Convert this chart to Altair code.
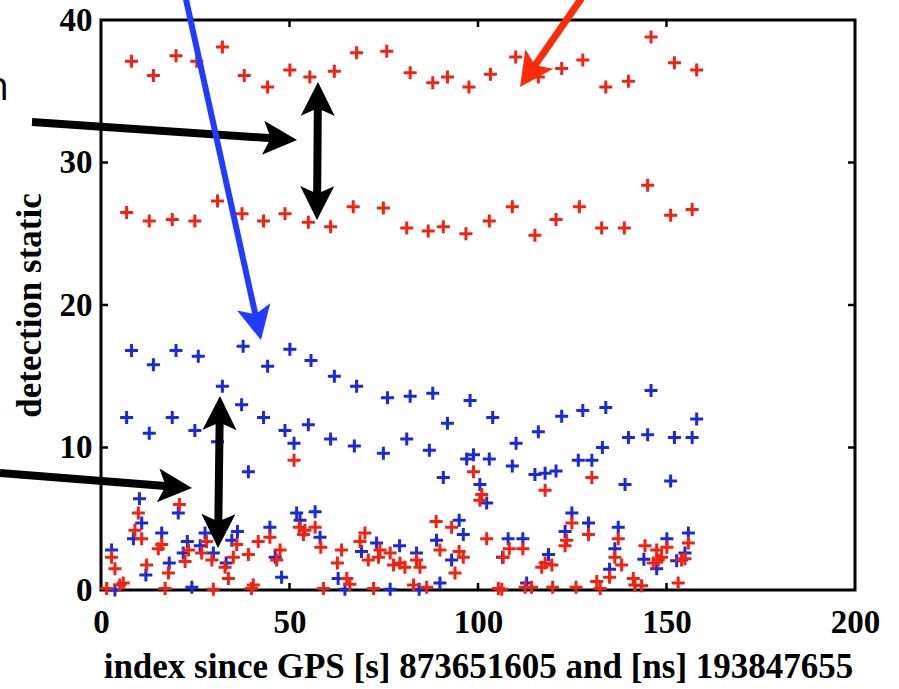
import math
import altair as alt
import pandas as pd

# ---------------- data ----------------
red_x = [
    8.1, 13.9, 19.9, 25.4, 32.2, 38.0, 44.2, 50.1, 55.4, 61.9, 67.8, 75.8, 82.0, 88.0, 91.9, 97.6, 103.3,
    110.0, 116.0, 122.2, 127.8, 133.9, 139.9, 145.9, 152.1, 158.0,
    6.8, 12.8, 18.9, 24.9, 30.9, 37.4, 43.1, 48.8, 55.0, 60.9, 66.9, 74.9, 81.1, 86.8, 90.8, 96.8, 103.0,
    109.1, 115.1, 120.7, 126.9, 132.8, 138.8, 145.0, 151.1, 156.8,
    51.2, 98.8, 130.2, 117.8, 100.5, 101.0,
    20.8, 9.9, 9.0, 10.8, 2.8, 3.7, 12.1, 17.9, 15.2, 16.1, 22.3, 23.2, 26.7, 28.0, 29.4, 32.9, 33.8,
    36.0, 35.1, 39.1, 41.7, 44.8, 47.5, 46.6, 52.6, 53.7, 1.5, 5.0, 5.9, 17.0, 29.8, 40.4, 39.9,
    88.9, 93.0, 102.3, 54.1, 56.8, 58.3, 70.0, 68.7, 63.8, 62.7, 65.2, 66.0, 70.9, 73.6, 74.0, 76.7,
    77.6, 79.3, 80.6, 83.7, 84.6, 89.9, 95.0, 96.1, 93.9, 59.0, 72.3, 82.9, 86.4, 105.4, 106.7,
    124.9, 129.3, 123.5, 123.1, 137.2, 155.8, 108.3, 111.9, 117.8, 116.9, 119.6, 136.3, 138.1, 134.9,
    144.3, 147.4, 150.1, 147.8, 146.5, 148.7, 154.0, 154.9, 153.1, 141.2, 141.6, 143.4, 131.5, 132.4,
    126.0, 119.8, 112.5, 114.2, 106.3,
]
red_y = [
    37.1, 36.1, 37.5, 37.1, 38.1, 36.1, 35.3, 36.5, 36.0, 36.4, 37.7, 37.8, 36.3, 35.6, 36.0, 35.3, 36.2,
    37.4, 36.0, 36.6, 37.2, 35.3, 35.7, 38.8, 37.0, 36.5,
    26.5, 25.9, 26.0, 25.9, 27.3, 26.4, 25.9, 26.4, 25.8, 25.5, 26.9, 26.8, 25.4, 25.2, 25.5, 25.0, 25.9,
    26.9, 24.9, 26.0, 26.9, 25.4, 25.4, 28.4, 26.3, 26.7,
    9.1, 8.3, 7.9, 7.0, 6.3, 6.7,
    6.0, 5.4, 4.2, 3.6, 2.3, 1.5, 1.75, 1.2, 2.9, 3.2, 2.0, 2.8, 2.6, 3.4, 2.1, 1.6, 0.8,
    3.2, 2.3, 2.5, 3.4, 3.7, 2.8, 2.1, 4.4, 3.9, 0.1, 0.35, 0.5, 0.1, 0.05, 0.35, 0.1,
    4.8, 4.4, 3.6, 4.2, 4.4, 3.0, 4.0, 3.4, 2.8, 1.9, 0.8, 0.4, 2.1, 2.3, 2.8, 2.6,
    1.75, 1.9, 1.6, 2.1, 1.6, 2.8, 2.7, 2.3, 1.2, 0.1, 0.1, 0.35, 0.2, 0.1, 2.3,
    4.7, 3.9, 3.5, 3.1, 3.6, 3.3, 2.9, 2.9, 1.9, 1.6, 1.75, 2.3, 1.75, 0.9,
    3.1, 2.8, 3.0, 2.1, 1.9, 2.3, 2.1, 2.2, 0.5, 0.8, 0.35, 0.3, 0.6, 0.1,
    0.2, 0.2, 0.2, 0.2, 0.05,
]
blue_x = [
    8.1, 13.9, 19.9, 25.8, 32.2, 37.7, 44.2, 50.1, 55.7, 61.9, 67.8, 76.0, 82.0, 88.0, 97.9, 103.9,
    110.1, 116.0, 122.2, 127.8, 133.9, 139.9, 145.9, 152.1, 158.0,
    6.8, 12.8, 18.9, 24.9, 30.9, 37.3, 43.1, 48.8, 51.2, 55.0, 60.9, 67.2, 74.9, 81.1, 87.1, 91.9,
    97.0, 98.8, 103.0, 109.1, 115.1, 117.8, 120.7, 126.6, 130.2, 133.0, 139.0, 145.0, 151.1, 156.8,
    39.1, 90.8, 100.5, 102.3, 10.2,
    10.8, 8.6, 2.8, 16.1, 20.5, 18.1, 11.9, 22.9, 21.8, 27.6, 26.3, 29.8, 36.2, 34.7, 33.2, 44.8,
    46.2, 47.9, 51.9, 52.8, 24.1, 3.7,
    56.8, 58.1, 95.0, 96.1, 89.0, 73.1, 69.1, 79.2, 83.7, 93.0, 62.9, 64.7, 76.7, 89.9, 84.4,
    124.9, 129.3, 137.2, 150.1, 155.8, 108.0, 111.9, 123.1, 118.7, 136.3, 134.9, 144.0, 147.4,
    152.7, 154.9, 106.5, 112.9,
]
blue_y = [
    16.8, 15.8, 16.8, 16.4, 14.3, 17.1, 15.7, 16.9, 16.1, 15.0, 14.3, 13.5, 13.6, 13.8, 13.3, 12.1,
    10.3, 11.1, 12.2, 12.6, 12.8, 10.7, 14.0, 10.7, 12.0,
    12.1, 11.0, 12.1, 11.2, 10.4, 13.0, 12.1, 11.2, 10.3, 11.6, 10.6, 10.1, 9.6, 10.6, 9.8, 11.7,
    9.2, 9.5, 9.2, 8.7, 8.1, 8.2, 8.35, 9.1, 9.1, 10.0, 7.4, 10.9, 7.65, 10.7,
    8.3, 7.9, 7.4, 6.1, 6.4,
    4.7, 3.6, 2.8, 4.0, 5.4, 1.9, 1.05, 3.4, 2.6, 4.0, 3.1, 2.6, 4.1, 3.5, 1.9, 4.4,
    2.3, 0.9, 5.4, 4.9, 0.2, 0.0,
    5.5, 3.7, 4.9, 3.9, 3.5, 3.3, 2.7, 3.1, 2.6, 2.1, 0.8, 0.05, 0.05, 0.5, 0.05,
    5.4, 4.7, 4.4, 3.6, 4.0, 3.6, 3.6, 4.1, 2.5, 2.9, 1.45, 2.15, 1.5,
    2.05, 2.6, 2.3, 0.5,
]

x_tick_values = [0, 50, 100, 150, 200]
y_tick_values = [0, 10, 20, 30, 40]
x_inner_ticks = [50, 100, 150]
y_inner_ticks = [10, 20, 30]

x_title = "index since GPS [s] 873651605 and [ns] 193847655"
y_title = "detection static"

# annotation arrows, in data units (start -> end)
arrow_x1 = [-18.3, 57.56, -26.8, 31.56, 22.0, 128.6]
arrow_y1 = [32.84, 35.65, 8.21, 13.61, 42.1, 41.96]
arrow_x2 = [52.0, 57.29, 24.14, 31.03, 42.44, 111.14]
arrow_y2 = [31.58, 25.96, 7.16, 2.95, 17.54, 35.3]
arrow_color = ["black", "black", "black", "black", "#1f3cff", "#ff2a0a"]
arrow_double = [False, True, False, True, False, False]
arrow_width = [8, 8, 8, 8, 6, 7]

note_text = ["n"]
note_x = [-24.4]
note_y = [34.39]

# ---------------- layout / styles ----------------
W, H = 754, 570
XD = [0, 200]
YD = [0, 40]
SX = W / (XD[1] - XD[0])
SY = H / (YD[1] - YD[0])
HEAD_R = 17
HEAD_PATH = "M0,-1L1,1L0,0.55L-1,1Z"
PLUS_PATH = "M-1,0L1,0M0,-1L0,1"
RED = "#f02212"
BLUE = "#1a2ad8"
SERIF = "Liberation Serif"


def head(tx, ty, fx, fy):
    dx = (tx - fx) * SX
    dy = -(ty - fy) * SY
    L = math.hypot(dx, dy)
    ux, uy = dx / L, dy / L
    ang = math.degrees(math.atan2(ux, -uy)) % 360
    cx = tx - HEAD_R * ux / SX
    cy = ty + HEAD_R * uy / SY
    return cx, cy, ang


seg_rows, head_rows = [], []
for i in range(len(arrow_x1)):
    x1, y1, x2, y2 = arrow_x1[i], arrow_y1[i], arrow_x2[i], arrow_y2[i]
    c = arrow_color[i]
    cx2, cy2, a2 = head(x2, y2, x1, y1)
    head_rows.append({"x": cx2, "y": cy2, "angle": a2, "color": c})
    sx1, sy1 = x1, y1
    if arrow_double[i]:
        cx1, cy1, a1 = head(x1, y1, x2, y2)
        head_rows.append({"x": cx1, "y": cy1, "angle": a1, "color": c})
        sx1, sy1 = cx1, cy1
    seg_rows.append({"x": sx1, "y": sy1, "x2": cx2, "y2": cy2, "color": c, "w": arrow_width[i]})

seg_df = pd.DataFrame(seg_rows)
head_df = pd.DataFrame(head_rows)
red_df = pd.DataFrame({"x": red_x, "y": red_y})
blue_df = pd.DataFrame({"x": blue_x, "y": blue_y})
note_df = pd.DataFrame({"x": note_x, "y": note_y, "t": note_text})
xt_df = pd.DataFrame({"x": x_inner_ticks})
yt_df = pd.DataFrame({"y": y_inner_ticks})

xscale = alt.Scale(domain=XD, nice=False, zero=False)
yscale = alt.Scale(domain=YD, nice=False, zero=False)

xaxis = alt.Axis(
    values=x_tick_values, ticks=False, tickSize=0, domain=False, grid=False,
    labelFont=SERIF, labelFontWeight="bold", labelFontSize=33, labelColor="black",
    labelPadding=16, labelFlush=False, labelOverlap=False,
    title=x_title, titleFont=SERIF, titleFontWeight="bold", titleFontSize=35,
    titleColor="black", titlePadding=10,
)
yaxis = alt.Axis(
    values=y_tick_values, ticks=False, tickSize=0, domain=False, grid=False,
    labelFont=SERIF, labelFontWeight="bold", labelFontSize=33, labelColor="black",
    labelPadding=9, labelFlush=False, labelOverlap=False,
    title=y_title, titleFont=SERIF, titleFontWeight="bold", titleFontSize=35,
    titleColor="black", titlePadding=12,
)


def X(f="x"):
    return alt.X(f, type="quantitative", scale=xscale, axis=xaxis)


def Y(f="y"):
    return alt.Y(f, type="quantitative", scale=yscale, axis=yaxis)


blue_layer = alt.Chart(blue_df).mark_point(
    shape=PLUS_PATH, size=169, strokeWidth=3, filled=False, opacity=1, color=BLUE
).encode(x=X(), y=Y())

red_layer = alt.Chart(red_df).mark_point(
    shape=PLUS_PATH, size=169, strokeWidth=3, filled=False, opacity=1, color=RED
).encode(x=X(), y=Y())

bottom_ticks = alt.Chart(xt_df).mark_rule(color="black", strokeWidth=2.5).encode(
    x=X(), y=alt.value(H), y2=alt.value(H - 7))
top_ticks = alt.Chart(xt_df).mark_rule(color="black", strokeWidth=2.5).encode(
    x=X(), y=alt.value(0), y2=alt.value(7))
left_ticks = alt.Chart(yt_df).mark_rule(color="black", strokeWidth=2.5).encode(
    y=Y(), x=alt.value(0), x2=alt.value(7))
right_ticks = alt.Chart(yt_df).mark_rule(color="black", strokeWidth=2.5).encode(
    y=Y(), x=alt.value(W), x2=alt.value(W - 7))

segs = alt.Chart(seg_df).mark_rule(strokeCap="butt").encode(
    x=X(), y=Y(), x2=alt.X2("x2"), y2=alt.Y2("y2"),
    color=alt.Color("color:N", scale=None),
    strokeWidth=alt.StrokeWidth("w:Q", scale=None),
)
heads = alt.Chart(head_df).mark_point(
    shape=HEAD_PATH, size=(2 * HEAD_R) ** 2, filled=True, opacity=1, strokeWidth=0
).encode(
    x=X(), y=Y(),
    angle=alt.Angle("angle:Q", scale=None),
    color=alt.Color("color:N", scale=None),
)
note = alt.Chart(note_df).mark_text(
    font="Open Sans", fontSize=40, align="right", baseline="alphabetic", color="black"
).encode(x=X(), y=Y(), text="t:N")

chart = alt.layer(
    blue_layer, red_layer, bottom_ticks, top_ticks, left_ticks, right_ticks, segs, heads, note
).properties(
    width=W, height=H,
    padding={"left": 101, "top": 20, "right": 44, "bottom": 99},
    autosize=alt.AutoSizeParams(type="none"),
    background="white",
).configure_view(stroke="black", strokeWidth=3)

chart.save("out.html", embed_options={"renderer": "svg", "actions": False})
